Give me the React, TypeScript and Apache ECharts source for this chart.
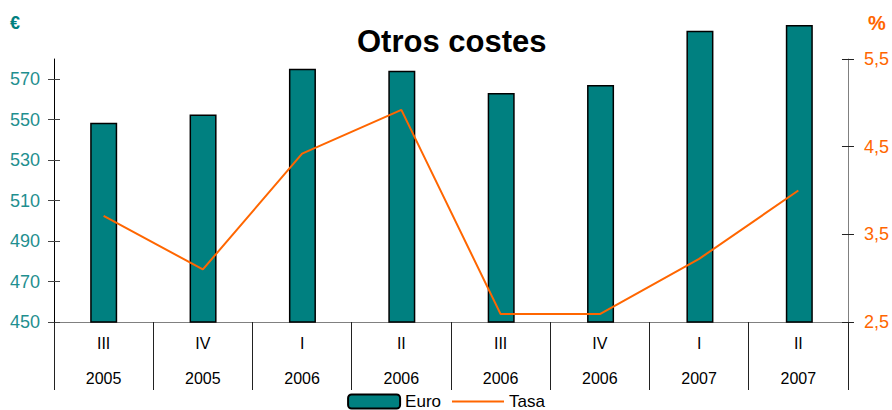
import React, { useEffect, useRef } from "react";
import * as echarts from "echarts";

const quarters = ["III", "IV", "I", "II", "III", "IV", "I", "II"];
const years = ["2005", "2005", "2006", "2006", "2006", "2006", "2007", "2007"];
const euroValues = [548.3, 552.4, 575, 574, 563, 567, 593.7, 596.5];
const tasaValues = [3.71, 3.1, 4.42, 4.92, 2.59, 2.59, 3.22, 4.0];
const leftTicks = [450, 470, 490, 510, 530, 550, 570];

const FONT = "'Liberation Sans', Arial, sans-serif";
const TEAL = "#008080";
const TEAL_LABEL = "#1f8f8f";
const ORANGE = "#FF6600";

export default function App() {
  const ref = useRef<HTMLDivElement>(null);
  useEffect(() => {
    if (!ref.current) return;
    const chart = echarts.init(ref.current, null, { renderer: "svg" });
    const categories = quarters.map((q, i) => q + "|" + years[i]);
    chart.setOption({
      animation: false,
      backgroundColor: "#fff",
      textStyle: { fontFamily: FONT },
      title: {
        text: "Otros costes",
        left: 352,
        top: 21,
        textStyle: { fontSize: 31, fontWeight: "bold", color: "#000", fontFamily: FONT },
      },
      graphic: [
        {
          type: "text",
          left: 10,
          top: 14,
          style: { text: "€", fontSize: 18, fontWeight: "bold", fill: TEAL, fontFamily: FONT },
        },
        {
          type: "text",
          left: 868,
          top: 13,
          style: { text: "%", fontSize: 20, fontWeight: "bold", fill: ORANGE, fontFamily: FONT },
        },
      ],
      legend: {
        top: 393,
        left: "center",
        padding: 0,
        itemWidth: 52,
        itemHeight: 14,
        itemGap: 10,
        textStyle: { fontSize: 17, lineHeight: 14, color: "#000", fontFamily: FONT },
        data: [{ name: "Euro" }, { name: "Tasa", itemStyle: { opacity: 0 } }],
      },
      grid: [
        { left: 54, right: 43, top: 18, bottom: 88, containLabel: false },
        { left: 54, right: 43, top: 59, bottom: 88, containLabel: false },
      ],
      xAxis: [
        {
          type: "category",
          gridIndex: 0,
          data: categories,
          show: false,
        },
        {
          type: "category",
          gridIndex: 1,
          data: categories,
          boundaryGap: true,
          axisLine: { lineStyle: { color: "#808080", width: 1 } },
          axisTick: { show: true, length: 68, lineStyle: { color: "#222", width: 1 } },
          axisLabel: {
            margin: 4,
            interval: 0,
            formatter: (v: string) => {
              const [q, y] = v.split("|");
              return "{a|" + q + "}\n{a|" + y + "}";
            },
            rich: { a: { fontSize: 16, lineHeight: 35, color: "#000", fontFamily: FONT } },
          },
          splitLine: { show: false },
        },
      ],
      yAxis: [
        {
          type: "value",
          gridIndex: 0,
          min: 450,
          max: 600,
          show: false,
          splitLine: { show: false },
        },
        {
          type: "value",
          gridIndex: 1,
          position: "left",
          min: 450,
          max: 580,
          interval: 10,
          axisLine: { show: true, lineStyle: { color: "#000", width: 1 } },
          axisTick: { show: true, length: 6, customValues: leftTicks, lineStyle: { color: "#444" } },
          axisLabel: {
            margin: 14,
            customValues: leftTicks,
            fontSize: 18,
            color: TEAL_LABEL,
            fontFamily: FONT,
          },
          splitLine: { show: false },
        },
        {
          type: "value",
          gridIndex: 1,
          position: "right",
          min: 2.5,
          max: 5.5,
          interval: 1,
          axisLine: { show: true, lineStyle: { color: "#808080", width: 1 } },
          axisTick: { show: true, length: 6, lineStyle: { color: "#222" } },
          axisLabel: {
            margin: 16,
            fontSize: 18,
            color: ORANGE,
            fontFamily: FONT,
            formatter: (v: number) => v.toFixed(1).replace(".", ","),
          },
          splitLine: { show: false },
        },
        {
          type: "value",
          gridIndex: 1,
          position: "left",
          min: 450,
          max: 580,
          interval: 10,
          axisLine: { show: false },
          axisTick: { show: true, inside: true, length: 6, customValues: leftTicks, lineStyle: { color: "#444" } },
          axisLabel: { show: false },
          splitLine: { show: false },
        },
        {
          type: "value",
          gridIndex: 1,
          position: "right",
          min: 2.5,
          max: 5.5,
          interval: 1,
          axisLine: { show: false },
          axisTick: { show: true, inside: true, length: 6, lineStyle: { color: "#222" } },
          axisLabel: { show: false },
          splitLine: { show: false },
        },
      ],
      series: [
        {
          name: "Euro",
          type: "bar",
          xAxisIndex: 0,
          yAxisIndex: 0,
          data: euroValues,
          barWidth: 27,
          itemStyle: { color: TEAL, borderColor: "#000", borderWidth: 1.5 },
        },
        {
          name: "Tasa",
          type: "line",
          xAxisIndex: 1,
          yAxisIndex: 2,
          data: tasaValues,
          symbol: "none",
          lineStyle: { color: ORANGE, width: 2 },
          itemStyle: { color: ORANGE },
        },
      ],
    });
    return () => chart.dispose();
  }, []);
  return (
    <div
      ref={ref}
      style={{ position: "fixed", left: 0, top: 0, width: 892, height: 410 }}
    />
  );
}
